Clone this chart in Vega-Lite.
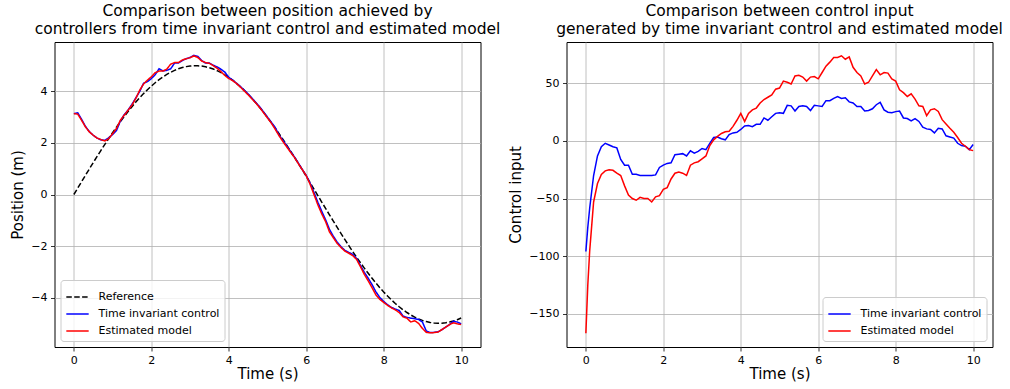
{
  "$schema": "https://vega.github.io/schema/vega-lite/v6.json",
  "background": "white",
  "padding": {"left": 9.5, "top": 3, "right": 5, "bottom": 5},
  "bounds": "flush",
  "spacing": 86,
  "config": {
    "font": "DejaVu Sans",
    "view": {"stroke": "black", "strokeWidth": 1},
    "axis": {
      "grid": true, "gridColor": "#b0b0b0", "gridWidth": 0.8,
      "domain": false, "tickColor": "black", "tickSize": 4, "tickWidth": 0.8,
      "labelColor": "black", "labelFontSize": 11, "labelPadding": 3.5, "labelFlush": false,
      "labelFont": "DejaVu Sans", "titleFont": "DejaVu Sans",
      "titleFontSize": 15, "titleFontWeight": "normal", "titleColor": "black"
    },
    "axisY": {"titlePadding": 5},
    "axisX": {"titlePadding": 1},
    "title": {"fontSize": 15.5, "fontWeight": "normal", "font": "DejaVu Sans", "lineHeight": 17.5, "anchor": "middle", "color": "black", "offset": 5},
    "legend": {
      "title": null, "fillColor": "rgba(255,255,255,0.8)", "strokeColor": "#cccccc", "cornerRadius": 3,
      "padding": 5, "offset": 6, "labelFontSize": 11, "labelColor": "black", "labelFont": "DejaVu Sans",
      "symbolType": "stroke", "symbolStrokeWidth": 1.5, "symbolSize": 500, "labelOffset": 9, "rowPadding": 0
    }
  },
  "resolve": {"scale": {"color": "independent", "strokeDash": "independent", "x": "independent", "y": "independent"}, "legend": {"color": "independent", "strokeDash": "independent"}},
  "hconcat": [
    {
      "title": {"text": ["Comparison between position achieved by", "controllers from time invariant control and estimated model"]},
      "width": 426, "height": 305,
      "data": {"name": "position"},
      "transform": [{"fold": ["Reference", "Time invariant control", "Estimated model"], "as": ["series", "value"]}],
      "mark": {"type": "line", "strokeWidth": 1.5, "clip": true},
      "encoding": {
        "x": {"field": "t", "type": "quantitative", "scale": {"domain": [-0.5, 10.5], "nice": false, "zero": false}, "axis": {"title": "Time (s)", "values": [0, 2, 4, 6, 8, 10]}},
        "y": {"field": "value", "type": "quantitative", "scale": {"domain": [-5.92, 5.92], "nice": false, "zero": false}, "axis": {"title": "Position (m)", "values": [-4, -2, 0, 2, 4]}},
        "color": {"field": "series", "type": "nominal", "scale": {"domain": ["Reference", "Time invariant control", "Estimated model"], "range": ["black", "blue", "red"]}, "legend": {"orient": "bottom-left"}},
        "strokeDash": {"field": "series", "type": "nominal", "scale": {"domain": ["Reference", "Time invariant control", "Estimated model"], "range": [[5.5, 2.4], [1, 0], [1, 0]]}, "legend": {"orient": "bottom-left"}}
      }
    },
    {
      "title": {"text": ["Comparison between control input", "generated by time invariant control and estimated model"]},
      "width": 426, "height": 305,
      "data": {"name": "control"},
      "transform": [{"fold": ["Time invariant control", "Estimated model"], "as": ["series", "value"]}],
      "mark": {"type": "line", "strokeWidth": 1.5, "clip": true},
      "encoding": {
        "x": {"field": "t", "type": "quantitative", "scale": {"domain": [-0.5, 10.5], "nice": false, "zero": false}, "axis": {"title": "Time (s)", "values": [0, 2, 4, 6, 8, 10]}},
        "y": {"field": "value", "type": "quantitative", "scale": {"domain": [-179, 86], "nice": false, "zero": false}, "axis": {"title": "Control input", "values": [-150, -100, -50, 0, 50]}},
        "color": {"field": "series", "type": "nominal", "scale": {"domain": ["Time invariant control", "Estimated model"], "range": ["blue", "red"]}, "legend": {"orient": "bottom-right"}}
      }
    }
  ],
  "datasets": {
    "position": [
      {"t": 0.0, "Reference": 0.0, "Time invariant control": 3.14, "Estimated model": 3.14},
      {"t": 0.1, "Reference": 0.25, "Time invariant control": 3.17, "Estimated model": 3.12},
      {"t": 0.2, "Reference": 0.499, "Time invariant control": 2.92, "Estimated model": 2.88},
      {"t": 0.3, "Reference": 0.747, "Time invariant control": 2.64, "Estimated model": 2.62},
      {"t": 0.4, "Reference": 0.993, "Time invariant control": 2.44, "Estimated model": 2.43},
      {"t": 0.5, "Reference": 1.237, "Time invariant control": 2.3, "Estimated model": 2.3},
      {"t": 0.6, "Reference": 1.478, "Time invariant control": 2.19, "Estimated model": 2.19},
      {"t": 0.7, "Reference": 1.715, "Time invariant control": 2.12, "Estimated model": 2.13},
      {"t": 0.8, "Reference": 1.947, "Time invariant control": 2.1, "Estimated model": 2.08},
      {"t": 0.9, "Reference": 2.175, "Time invariant control": 2.2, "Estimated model": 2.17},
      {"t": 1.0, "Reference": 2.397, "Time invariant control": 2.33, "Estimated model": 2.36},
      {"t": 1.1, "Reference": 2.614, "Time invariant control": 2.48, "Estimated model": 2.56},
      {"t": 1.2, "Reference": 2.823, "Time invariant control": 2.85, "Estimated model": 2.88},
      {"t": 1.3, "Reference": 3.026, "Time invariant control": 3.1, "Estimated model": 3.08},
      {"t": 1.4, "Reference": 3.221, "Time invariant control": 3.28, "Estimated model": 3.27},
      {"t": 1.5, "Reference": 3.408, "Time invariant control": 3.5, "Estimated model": 3.47},
      {"t": 1.6, "Reference": 3.587, "Time invariant control": 3.75, "Estimated model": 3.73},
      {"t": 1.7, "Reference": 3.756, "Time invariant control": 4.0, "Estimated model": 4.05},
      {"t": 1.8, "Reference": 3.917, "Time invariant control": 4.32, "Estimated model": 4.29},
      {"t": 1.9, "Reference": 4.067, "Time invariant control": 4.38, "Estimated model": 4.44},
      {"t": 2.0, "Reference": 4.207, "Time invariant control": 4.5, "Estimated model": 4.57},
      {"t": 2.1, "Reference": 4.337, "Time invariant control": 4.65, "Estimated model": 4.73},
      {"t": 2.2, "Reference": 4.456, "Time invariant control": 4.88, "Estimated model": 4.79},
      {"t": 2.3, "Reference": 4.564, "Time invariant control": 4.8, "Estimated model": 4.79},
      {"t": 2.4, "Reference": 4.66, "Time invariant control": 4.82, "Estimated model": 4.87},
      {"t": 2.5, "Reference": 4.745, "Time invariant control": 4.88, "Estimated model": 5.06},
      {"t": 2.6, "Reference": 4.818, "Time invariant control": 5.1, "Estimated model": 5.12},
      {"t": 2.7, "Reference": 4.879, "Time invariant control": 5.1, "Estimated model": 5.12},
      {"t": 2.8, "Reference": 4.927, "Time invariant control": 5.2, "Estimated model": 5.22},
      {"t": 2.9, "Reference": 4.964, "Time invariant control": 5.27, "Estimated model": 5.27},
      {"t": 3.0, "Reference": 4.988, "Time invariant control": 5.32, "Estimated model": 5.31},
      {"t": 3.1, "Reference": 4.999, "Time invariant control": 5.4, "Estimated model": 5.38},
      {"t": 3.2, "Reference": 4.998, "Time invariant control": 5.36, "Estimated model": 5.32},
      {"t": 3.3, "Reference": 4.984, "Time invariant control": 5.2, "Estimated model": 5.18},
      {"t": 3.4, "Reference": 4.958, "Time invariant control": 5.1, "Estimated model": 5.12},
      {"t": 3.5, "Reference": 4.92, "Time invariant control": 5.1, "Estimated model": 5.09},
      {"t": 3.6, "Reference": 4.869, "Time invariant control": 5.02, "Estimated model": 5.0},
      {"t": 3.7, "Reference": 4.806, "Time invariant control": 4.95, "Estimated model": 4.9},
      {"t": 3.8, "Reference": 4.732, "Time invariant control": 4.86, "Estimated model": 4.77},
      {"t": 3.9, "Reference": 4.645, "Time invariant control": 4.75, "Estimated model": 4.62},
      {"t": 4.0, "Reference": 4.547, "Time invariant control": 4.55, "Estimated model": 4.5},
      {"t": 4.1, "Reference": 4.437, "Time invariant control": 4.44, "Estimated model": 4.42},
      {"t": 4.2, "Reference": 4.316, "Time invariant control": 4.32, "Estimated model": 4.31},
      {"t": 4.3, "Reference": 4.185, "Time invariant control": 4.19, "Estimated model": 4.17},
      {"t": 4.4, "Reference": 4.043, "Time invariant control": 4.05, "Estimated model": 4.02},
      {"t": 4.5, "Reference": 3.89, "Time invariant control": 3.9, "Estimated model": 3.87},
      {"t": 4.6, "Reference": 3.729, "Time invariant control": 3.74, "Estimated model": 3.71},
      {"t": 4.7, "Reference": 3.557, "Time invariant control": 3.57, "Estimated model": 3.55},
      {"t": 4.8, "Reference": 3.377, "Time invariant control": 3.4, "Estimated model": 3.37},
      {"t": 4.9, "Reference": 3.189, "Time invariant control": 3.2, "Estimated model": 3.17},
      {"t": 5.0, "Reference": 2.992, "Time invariant control": 3.0, "Estimated model": 2.97},
      {"t": 5.1, "Reference": 2.788, "Time invariant control": 2.8, "Estimated model": 2.77},
      {"t": 5.2, "Reference": 2.578, "Time invariant control": 2.6, "Estimated model": 2.53},
      {"t": 5.3, "Reference": 2.36, "Time invariant control": 2.3, "Estimated model": 2.28},
      {"t": 5.4, "Reference": 2.137, "Time invariant control": 2.1, "Estimated model": 2.05},
      {"t": 5.5, "Reference": 1.908, "Time invariant control": 1.88, "Estimated model": 1.84},
      {"t": 5.6, "Reference": 1.675, "Time invariant control": 1.66, "Estimated model": 1.63},
      {"t": 5.7, "Reference": 1.437, "Time invariant control": 1.45, "Estimated model": 1.43},
      {"t": 5.8, "Reference": 1.196, "Time invariant control": 1.21, "Estimated model": 1.19},
      {"t": 5.9, "Reference": 0.952, "Time invariant control": 0.97, "Estimated model": 0.96},
      {"t": 6.0, "Reference": 0.706, "Time invariant control": 0.74, "Estimated model": 0.73},
      {"t": 6.1, "Reference": 0.457, "Time invariant control": 0.44, "Estimated model": 0.4},
      {"t": 6.2, "Reference": 0.208, "Time invariant control": 0.08, "Estimated model": 0.0},
      {"t": 6.3, "Reference": -0.042, "Time invariant control": -0.3, "Estimated model": -0.4},
      {"t": 6.4, "Reference": -0.292, "Time invariant control": -0.65, "Estimated model": -0.75},
      {"t": 6.5, "Reference": -0.541, "Time invariant control": -0.98, "Estimated model": -1.05},
      {"t": 6.6, "Reference": -0.789, "Time invariant control": -1.35, "Estimated model": -1.45},
      {"t": 6.7, "Reference": -1.035, "Time invariant control": -1.62, "Estimated model": -1.68},
      {"t": 6.8, "Reference": -1.278, "Time invariant control": -1.85, "Estimated model": -1.9},
      {"t": 6.9, "Reference": -1.518, "Time invariant control": -2.03, "Estimated model": -2.06},
      {"t": 7.0, "Reference": -1.754, "Time invariant control": -2.17, "Estimated model": -2.2},
      {"t": 7.1, "Reference": -1.986, "Time invariant control": -2.25, "Estimated model": -2.28},
      {"t": 7.2, "Reference": -2.213, "Time invariant control": -2.32, "Estimated model": -2.37},
      {"t": 7.3, "Reference": -2.434, "Time invariant control": -2.48, "Estimated model": -2.52},
      {"t": 7.4, "Reference": -2.649, "Time invariant control": -2.75, "Estimated model": -2.8},
      {"t": 7.5, "Reference": -2.858, "Time invariant control": -3.02, "Estimated model": -3.1},
      {"t": 7.6, "Reference": -3.059, "Time invariant control": -3.25, "Estimated model": -3.35},
      {"t": 7.7, "Reference": -3.253, "Time invariant control": -3.5, "Estimated model": -3.62},
      {"t": 7.8, "Reference": -3.439, "Time invariant control": -3.78, "Estimated model": -3.9},
      {"t": 7.9, "Reference": -3.616, "Time invariant control": -4.0, "Estimated model": -4.07},
      {"t": 8.0, "Reference": -3.784, "Time invariant control": -4.15, "Estimated model": -4.19},
      {"t": 8.1, "Reference": -3.943, "Time invariant control": -4.28, "Estimated model": -4.3},
      {"t": 8.2, "Reference": -4.091, "Time invariant control": -4.38, "Estimated model": -4.4},
      {"t": 8.3, "Reference": -4.23, "Time invariant control": -4.45, "Estimated model": -4.48},
      {"t": 8.4, "Reference": -4.358, "Time invariant control": -4.5, "Estimated model": -4.58},
      {"t": 8.5, "Reference": -4.475, "Time invariant control": -4.72, "Estimated model": -4.75},
      {"t": 8.6, "Reference": -4.581, "Time invariant control": -4.77, "Estimated model": -4.8},
      {"t": 8.7, "Reference": -4.675, "Time invariant control": -4.8, "Estimated model": -4.95},
      {"t": 8.8, "Reference": -4.758, "Time invariant control": -4.82, "Estimated model": -4.9},
      {"t": 8.9, "Reference": -4.829, "Time invariant control": -4.85, "Estimated model": -5.0},
      {"t": 9.0, "Reference": -4.888, "Time invariant control": -4.95, "Estimated model": -5.2},
      {"t": 9.1, "Reference": -4.934, "Time invariant control": -5.3, "Estimated model": -5.35},
      {"t": 9.2, "Reference": -4.968, "Time invariant control": -5.36, "Estimated model": -5.37},
      {"t": 9.3, "Reference": -4.99, "Time invariant control": -5.35, "Estimated model": -5.36},
      {"t": 9.4, "Reference": -5.0, "Time invariant control": -5.33, "Estimated model": -5.34},
      {"t": 9.5, "Reference": -4.997, "Time invariant control": -5.25, "Estimated model": -5.25},
      {"t": 9.6, "Reference": -4.981, "Time invariant control": -5.15, "Estimated model": -5.15},
      {"t": 9.7, "Reference": -4.953, "Time invariant control": -5.05, "Estimated model": -5.05},
      {"t": 9.8, "Reference": -4.912, "Time invariant control": -4.92, "Estimated model": -4.98},
      {"t": 9.9, "Reference": -4.86, "Time invariant control": -4.95, "Estimated model": -5.02},
      {"t": 10.0, "Reference": -4.795, "Time invariant control": -5.02, "Estimated model": -5.05}
    ],
    "control": [
      {"t": 0.0, "Time invariant control": -96, "Estimated model": -167},
      {"t": 0.05, "Time invariant control": -75, "Estimated model": -125},
      {"t": 0.1, "Time invariant control": -58, "Estimated model": -95},
      {"t": 0.2, "Time invariant control": -30, "Estimated model": -53},
      {"t": 0.3, "Time invariant control": -13, "Estimated model": -37},
      {"t": 0.4, "Time invariant control": -5, "Estimated model": -29},
      {"t": 0.5, "Time invariant control": -2, "Estimated model": -26},
      {"t": 0.6, "Time invariant control": -3.5, "Estimated model": -25},
      {"t": 0.7, "Time invariant control": -5, "Estimated model": -25.5},
      {"t": 0.8, "Time invariant control": -6, "Estimated model": -28},
      {"t": 0.9, "Time invariant control": -16, "Estimated model": -30},
      {"t": 1.0, "Time invariant control": -21, "Estimated model": -39},
      {"t": 1.1, "Time invariant control": -21, "Estimated model": -47},
      {"t": 1.2, "Time invariant control": -29, "Estimated model": -50},
      {"t": 1.3, "Time invariant control": -29, "Estimated model": -51.5},
      {"t": 1.4, "Time invariant control": -30, "Estimated model": -49},
      {"t": 1.5, "Time invariant control": -30, "Estimated model": -50},
      {"t": 1.6, "Time invariant control": -30, "Estimated model": -50},
      {"t": 1.7, "Time invariant control": -30, "Estimated model": -53},
      {"t": 1.8, "Time invariant control": -29.5, "Estimated model": -48.5},
      {"t": 1.9, "Time invariant control": -23, "Estimated model": -47.5},
      {"t": 2.0, "Time invariant control": -21, "Estimated model": -42},
      {"t": 2.1, "Time invariant control": -19.5, "Estimated model": -40.5},
      {"t": 2.2, "Time invariant control": -19, "Estimated model": -33},
      {"t": 2.3, "Time invariant control": -12, "Estimated model": -28},
      {"t": 2.4, "Time invariant control": -11.5, "Estimated model": -27},
      {"t": 2.5, "Time invariant control": -11, "Estimated model": -28},
      {"t": 2.6, "Time invariant control": -13, "Estimated model": -30},
      {"t": 2.7, "Time invariant control": -8.5, "Estimated model": -21},
      {"t": 2.8, "Time invariant control": -10.5, "Estimated model": -19},
      {"t": 2.9, "Time invariant control": -9, "Estimated model": -18},
      {"t": 3.0, "Time invariant control": -6.5, "Estimated model": -15.5},
      {"t": 3.1, "Time invariant control": -7.5, "Estimated model": -13},
      {"t": 3.2, "Time invariant control": -2, "Estimated model": -4},
      {"t": 3.3, "Time invariant control": 3, "Estimated model": 1},
      {"t": 3.4, "Time invariant control": 3.5, "Estimated model": 4},
      {"t": 3.5, "Time invariant control": 2, "Estimated model": 6.5},
      {"t": 3.6, "Time invariant control": 1, "Estimated model": 8},
      {"t": 3.7, "Time invariant control": 5.5, "Estimated model": 8.4},
      {"t": 3.8, "Time invariant control": 7, "Estimated model": 12.7},
      {"t": 3.9, "Time invariant control": 7.5, "Estimated model": 18},
      {"t": 4.0, "Time invariant control": 10, "Estimated model": 24},
      {"t": 4.1, "Time invariant control": 13, "Estimated model": 17},
      {"t": 4.2, "Time invariant control": 13.5, "Estimated model": 24},
      {"t": 4.3, "Time invariant control": 12.5, "Estimated model": 27},
      {"t": 4.4, "Time invariant control": 14.5, "Estimated model": 28.6},
      {"t": 4.5, "Time invariant control": 14.5, "Estimated model": 33},
      {"t": 4.6, "Time invariant control": 20, "Estimated model": 36},
      {"t": 4.7, "Time invariant control": 18, "Estimated model": 38},
      {"t": 4.8, "Time invariant control": 21, "Estimated model": 40},
      {"t": 4.9, "Time invariant control": 24, "Estimated model": 45},
      {"t": 5.0, "Time invariant control": 24.5, "Estimated model": 46},
      {"t": 5.1, "Time invariant control": 24, "Estimated model": 52},
      {"t": 5.2, "Time invariant control": 31, "Estimated model": 51},
      {"t": 5.3, "Time invariant control": 30.5, "Estimated model": 49.5},
      {"t": 5.4, "Time invariant control": 26, "Estimated model": 56.5},
      {"t": 5.5, "Time invariant control": 30, "Estimated model": 57},
      {"t": 5.6, "Time invariant control": 30.5, "Estimated model": 55.5},
      {"t": 5.7, "Time invariant control": 30, "Estimated model": 52},
      {"t": 5.8, "Time invariant control": 26.5, "Estimated model": 55.5},
      {"t": 5.9, "Time invariant control": 31, "Estimated model": 56},
      {"t": 6.0, "Time invariant control": 30.5, "Estimated model": 54},
      {"t": 6.1, "Time invariant control": 30, "Estimated model": 59.5},
      {"t": 6.2, "Time invariant control": 35, "Estimated model": 65},
      {"t": 6.3, "Time invariant control": 35, "Estimated model": 68.5},
      {"t": 6.4, "Time invariant control": 37, "Estimated model": 72.5},
      {"t": 6.5, "Time invariant control": 38.5, "Estimated model": 72.5},
      {"t": 6.6, "Time invariant control": 37, "Estimated model": 74},
      {"t": 6.7, "Time invariant control": 37.5, "Estimated model": 71},
      {"t": 6.8, "Time invariant control": 34, "Estimated model": 73},
      {"t": 6.9, "Time invariant control": 33, "Estimated model": 64},
      {"t": 7.0, "Time invariant control": 30, "Estimated model": 59.5},
      {"t": 7.1, "Time invariant control": 30, "Estimated model": 56.5},
      {"t": 7.2, "Time invariant control": 26, "Estimated model": 49.5},
      {"t": 7.3, "Time invariant control": 26.5, "Estimated model": 51},
      {"t": 7.4, "Time invariant control": 28, "Estimated model": 56.5},
      {"t": 7.5, "Time invariant control": 31.5, "Estimated model": 62},
      {"t": 7.6, "Time invariant control": 33.5, "Estimated model": 57.5},
      {"t": 7.7, "Time invariant control": 27, "Estimated model": 59.5},
      {"t": 7.8, "Time invariant control": 25, "Estimated model": 59},
      {"t": 7.9, "Time invariant control": 24.5, "Estimated model": 54},
      {"t": 8.0, "Time invariant control": 25.5, "Estimated model": 52},
      {"t": 8.1, "Time invariant control": 26, "Estimated model": 44.5},
      {"t": 8.2, "Time invariant control": 20, "Estimated model": 42},
      {"t": 8.3, "Time invariant control": 19.5, "Estimated model": 38.7},
      {"t": 8.4, "Time invariant control": 17.5, "Estimated model": 41},
      {"t": 8.5, "Time invariant control": 19.5, "Estimated model": 36.4},
      {"t": 8.6, "Time invariant control": 17, "Estimated model": 30.6},
      {"t": 8.7, "Time invariant control": 12, "Estimated model": 30},
      {"t": 8.8, "Time invariant control": 10.5, "Estimated model": 22},
      {"t": 8.9, "Time invariant control": 10, "Estimated model": 27},
      {"t": 9.0, "Time invariant control": 7, "Estimated model": 28},
      {"t": 9.1, "Time invariant control": 11, "Estimated model": 25.7},
      {"t": 9.2, "Time invariant control": 10.5, "Estimated model": 18.5},
      {"t": 9.3, "Time invariant control": 4.5, "Estimated model": 14.7},
      {"t": 9.4, "Time invariant control": 3.5, "Estimated model": 11},
      {"t": 9.5, "Time invariant control": 2.5, "Estimated model": 7.5},
      {"t": 9.6, "Time invariant control": -2, "Estimated model": 3},
      {"t": 9.7, "Time invariant control": -4, "Estimated model": -2},
      {"t": 9.8, "Time invariant control": -4.5, "Estimated model": -4.6},
      {"t": 9.9, "Time invariant control": -7.5, "Estimated model": -7.5},
      {"t": 10.0, "Time invariant control": -3, "Estimated model": -8.4}
    ]
  }
}
